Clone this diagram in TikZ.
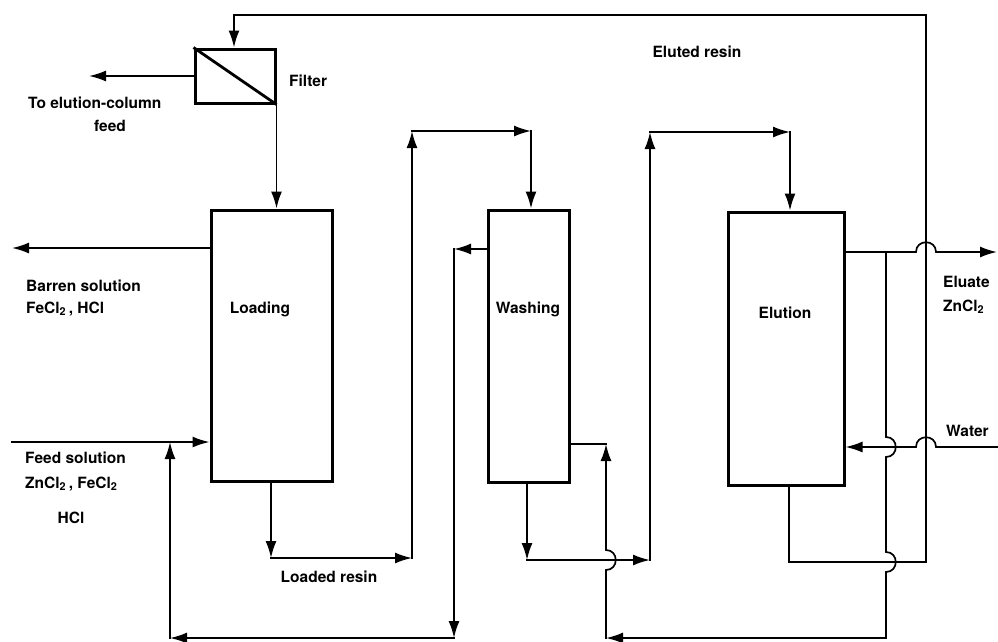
\documentclass[tikz,border=0pt]{standalone}
\usepackage{fontspec}
\setmainfont{TeX Gyre Heros}
\usetikzlibrary{arrows.meta}
\begin{document}
\begin{tikzpicture}[x=1pt,y=-1pt,
  flow/.style={line width=1.7pt,line cap=rect},
  arr/.style={flow,-{Latex[length=17pt,width=11pt]}},
  vessel/.style={draw,line width=3pt,inner sep=0pt},
  lab/.style={font=\bfseries\fontsize{15.5}{18}\selectfont,inner sep=0pt}]
\useasboundingbox (0,0) rectangle (998,641);

% vessels
\node[vessel,minimum width=80pt,minimum height=54pt] (filt) at (235,76) {};
\draw[line width=2.8pt] (filt.north west) -- (filt.south east);
\node[vessel,minimum width=121pt,minimum height=271pt] (load) at (271.5,345.5) {};
\node[vessel,minimum width=81pt,minimum height=272pt] (wash) at (528.5,346) {};
\node[vessel,minimum width=116pt,minimum height=273pt] (elut) at (786,348.5) {};

% coordinates
\coordinate (tl) at (234,15);
\coordinate (tr) at (926,15);
\coordinate (eb) at (789,562);
\coordinate (ebr) at (926,562);
\coordinate (fo) at (89,76);
\coordinate (bo) at (12,248);
\coordinate (fi) at (12,442);
\coordinate (l1) at (271,558);
\coordinate (l2) at (412,558);
\coordinate (l3) at (412,131);
\coordinate (l4) at (531,131);
\coordinate (w1) at (454,249);
\coordinate (w2) at (454,638);
\coordinate (w3) at (170,638);
\coordinate (b1) at (527,560);
\coordinate (b2) at (650,560);
\coordinate (b3) at (650,132);
\coordinate (b4) at (790,132);
\coordinate (e1) at (886,252);
\coordinate (e2) at (997,252);
\coordinate (wa) at (998,447);
\coordinate (r1) at (886,638);
\coordinate (r2) at (606,638);
\coordinate (r3) at (606,444);

% eluted resin loop
\draw[arr] (elut.south -| eb) -- (eb) -- (ebr) -- (tr) -- (tl) -- (tl |- filt.north);

% filter outlets
\draw[arr] (filt.west |- fo) -- (fo);
\draw[arr] (filt.south east) -- (filt.south east |- load.north);

% barren and feed
\draw[arr] (load.west |- bo) -- (bo);
\draw[arr] (fi) -- (fi -| load.west);

% loaded resin
\draw[arr] (load.south -| l1) -- (l1);
\draw[arr] (l1) -- (l2);
\draw[arr] (l2) -- (l3);
\draw[arr] (l3) -- (l4);
\draw[arr] (l4) -- (l4 |- wash.north);

% washing recycle to feed
\draw[arr] (wash.west |- w1) -- (w1);
\draw[arr] (w1) -- (w2);
\draw[arr] (w2) -- (w3);
\draw[arr] (w3) -- (w3 |- fi);

% washed resin to elution
\draw[arr] (wash.south -| b1) -- (b1);
\draw[arr] (b1) -- (b2);
\draw[arr] (b2) -- (b3);
\draw[arr] (b3) -- (b4);
\draw[arr] (b4) -- (b4 |- elut.north);

% eluate
\draw[arr] (elut.east |- e2) -- (916,252) .. controls (916,239) and (936,239) .. (936,252) -- (e2);
% water
\draw[arr] (wa) -- (936,447) .. controls (936,434) and (916,434) .. (916,447) -- (wa -| elut.east);

% eluate recycle to washing
\draw[flow] (e1) -- (886,437) .. controls (899,437) and (899,457) .. (886,457) -- (886,552) .. controls (899,552) and (899,572) .. (886,572) -- (r1);
\draw[arr] (r1) -- (r2);
\draw[arr] (r2) -- (606,570) .. controls (619,570) and (619,550) .. (606,550) -- (r3);
\draw[flow] (r3) -- (r3 -| wash.east);

% labels
\node[lab,anchor=base west] (tFilter) at (289,86) {Filter};
\node[lab,anchor=base west] (tTo) at (28,108) {To elution-column};
\node[lab,anchor=base] (tFeed) at (110,131) {feed};
\node[lab,anchor=base] (tEluted) at (697,57) {Eluted resin};
\node[lab,anchor=base west] (tBarren) at (26,291) {Barren solution};
\node[lab,anchor=base west] (tBarren2) at (26,313) {FeCl\textsubscript{2}\,, HCl};
\node[lab,anchor=base] (tLoad) at (260,313) {Loading};
\node[lab,anchor=base] (tWash) at (528,313) {Washing};
\node[lab,anchor=base] (tElut) at (785,318) {Elution};
\node[lab,anchor=base west] (tEluate) at (943,287) {Eluate};
\node[lab,anchor=base west] (tZn) at (943,311) {ZnCl\textsubscript{2}};
\node[lab,anchor=base west] (tWater) at (946,436) {Water};
\node[lab,anchor=base west] (tFeedS) at (25,463) {Feed solution};
\node[lab,anchor=base west] (tFeed2) at (25,488) {ZnCl\textsubscript{2}\,, FeCl\textsubscript{2}};
\node[lab,anchor=base] (tHCl) at (71,523) {HCl};
\node[lab,anchor=base] (tLoaded) at (329,582) {Loaded resin};
\end{tikzpicture}
\end{document}
